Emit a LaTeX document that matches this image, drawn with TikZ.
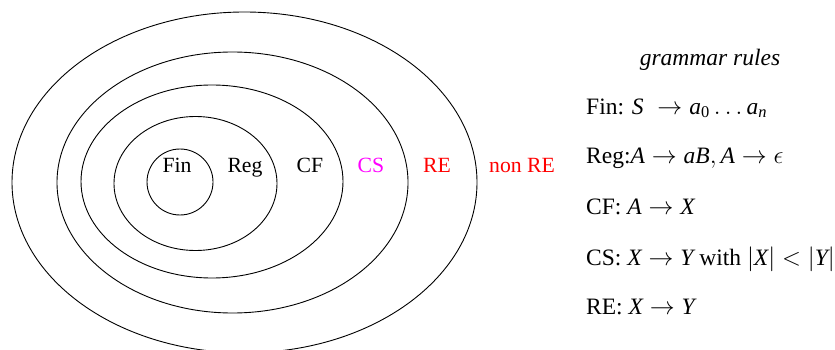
\documentclass[tikz,border=0pt]{standalone}
\usepackage{amsmath}
\usepackage[no-math]{fontspec}
\setmainfont{Liberation Serif}
% italic letters in math taken from the serif text face
\newcommand{\mi}[1]{\text{\itshape #1}}
\begin{document}
\begin{tikzpicture}[x=1pt,y=-1pt,
  every node/.style={inner sep=0pt,font=\fontsize{21.7}{26}\selectfont},
  region/.style={draw=black,line width=0.9pt},
  setlabel/.style={anchor=center},
  rule/.style={anchor=west,font=\fontsize{23.5}{28}\selectfont}]
  \useasboundingbox (0,0) rectangle (835,350);

  % nested language classes
  \draw[region] (244.5,182.4) ellipse [x radius=232.5, y radius=170.4];
  \draw[region] (232.5,182.5) ellipse [x radius=175.5, y radius=130.5];
  \draw[region] (212,181.5) ellipse [x radius=131, y radius=96.5];
  \draw[region] (195.5,183.5) ellipse [x radius=81.5, y radius=67];
  \draw[region] (180,182) circle [radius=33];

  % class names
  \node[setlabel] (fin)   at (177,168) {\vphantom{Rg}Fin};
  \node[setlabel] (reg)   at (245,168) {\vphantom{Rg}Reg};
  \node[setlabel] (cf)    at (310,168) {\vphantom{Rg}CF};
  \node[setlabel,text={rgb,255:red,255;green,0;blue,255}] (cs) at (371,168) {\vphantom{Rg}CS};
  \node[setlabel,text=red] (re)    at (437,168) {\vphantom{Rg}RE};
  \node[setlabel,text=red] (nonre) at (522,168) {\vphantom{Rg}non RE};

  % grammar rules
  \node[rule,anchor=center] (title) at (710,60) {\vphantom{Rg}\textit{grammar rules}};
  \node[rule] (rfin) at (586,109) {\vphantom{Rg}Fin: $\mi{S}\;\rightarrow \mi{a}_{\text{0}}\ldots \mi{a}_{\mi{n}}$};
  \node[rule] (rreg) at (586,158) {\vphantom{Rg}Reg:$\mi{A}\rightarrow \mi{aB}, \mi{A}\rightarrow\epsilon$};
  \node[rule] (rcf)  at (586,209) {\vphantom{Rg}CF: $\mi{A}\rightarrow \mi{X}$};
  \node[rule] (rcs)  at (586,259) {\vphantom{Rg}CS: $\mi{X}\rightarrow \mi{Y}$ with $|\mi{X}|<|\mi{Y}|$};
  \node[rule] (rre)  at (586,309) {\vphantom{Rg}RE: $\mi{X}\rightarrow \mi{Y}$};
\end{tikzpicture}
\end{document}
